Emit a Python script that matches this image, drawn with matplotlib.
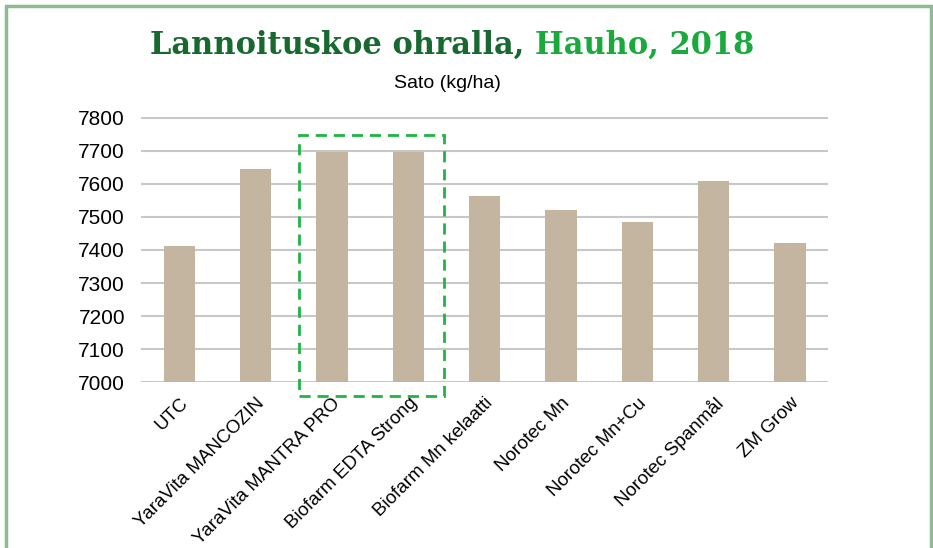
import matplotlib
matplotlib.use("Agg")
import matplotlib.pyplot as plt
from matplotlib.patches import Rectangle

# data
labels = ["UTC", "YaraVita MANCOZIN", "YaraVita MANTRA PRO", "Biofarm EDTA Strong",
          "Biofarm Mn kelaatti", "Norotec Mn", "Norotec Mn+Cu", "Norotec Spanmål", "ZM Grow"]
yields = [7411, 7645, 7698, 7698, 7563, 7521, 7484, 7610, 7420]
yticks = [7000, 7100, 7200, 7300, 7400, 7500, 7600, 7700, 7800]
title_dark = "Lannoituskoe ohralla, "
title_light = "Hauho, 2018"
ylabel_text = "Sato (kg/ha)"
highlight = (2, 3)  # bars inside the dashed box

plt.rcParams['font.family'] = ['Liberation Sans', 'DejaVu Sans']

fig = plt.figure(figsize=(9.33, 5.48), dpi=100)
ax = fig.add_axes([0.1515, 0.3029, 0.7360, 0.4830])

x = list(range(len(labels)))
ax.bar(x, yields, width=0.41, color="#c4b5a0", zorder=3)
ax.set_xlim(-0.5, len(labels) - 0.5)
ax.set_ylim(yticks[0], yticks[-1] + 2)
ax.set_yticks(yticks)
ax.set_yticklabels([str(v) for v in yticks], fontsize=15)
ax.set_xticks(x)
ax.set_xticklabels(labels, rotation=45, ha="right", rotation_mode="anchor",
                   fontsize=13.5)
ax.tick_params(axis="both", length=0)
ax.tick_params(axis="y", pad=11.7)
ax.tick_params(axis="x", pad=9)
ax.grid(axis="y", color="#c8c8c8", linewidth=1.5, zorder=0)
for s in ax.spines.values():
    s.set_visible(False)

# dashed highlight box
x0 = highlight[0] - 0.44
x1 = highlight[1] + 0.47
ax.add_patch(Rectangle((x0, 6958), x1 - x0, 7748 - 6958, fill=False,
                       edgecolor="#1fb544", linewidth=2, linestyle=(0, (4, 2.5)),
                       clip_on=False, zorder=4))

# frame around the figure
fig.patches.append(Rectangle((5.5 / 933, -0.05), (931 - 5.5) / 933, 1 - 5.5 / 548 + 0.05,
                             transform=fig.transFigure, fill=False,
                             edgecolor="#8dbb93", linewidth=2.5))

# two-coloured title
r = fig.canvas.get_renderer()
ty = 1 - 45 / 548
t1 = fig.text(0, ty, title_dark, fontsize=22, fontweight="bold",
              family="DejaVu Serif", color="#17692f", va="center", ha="left")
t2 = fig.text(0, ty, title_light, fontsize=22, fontweight="bold",
              family="DejaVu Serif", color="#1aaa3c", va="center", ha="left")
w1 = t1.get_window_extent(r).width
w2 = t2.get_window_extent(r).width
left = 452 - (w1 + w2) / 2
t1.set_x(left / 933)
t2.set_x((left + w1) / 933)

fig.text(447 / 933, 1 - 84 / 548, ylabel_text, fontsize=14, ha="center", va="center")

fig.savefig("out.png", dpi=100)
